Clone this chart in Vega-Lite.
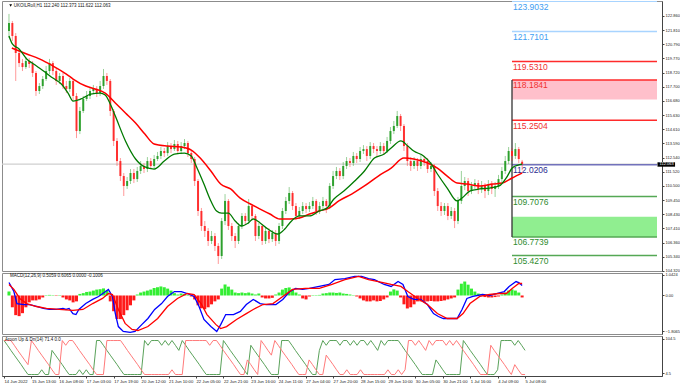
{
"$schema": "https://vega.github.io/schema/vega-lite/v6.json",
"padding": 0,
"background": "white",
"spacing": 2,
"bounds": "flush",
"config": {"view": {"stroke": "#8c8c8c", "strokeWidth": 1}, "axis": {"labelFont": "Liberation Sans", "labelFontSize": 4, "labelColor": "#222222", "domainColor": "#444444", "tickColor": "#444444", "tickSize": 2, "labelPadding": 1, "grid": false, "labelOverlap": false, "title": null}, "text": {"font": "Liberation Sans"}},
"datasets": {
"candles": [
{"i":0,"o":121.74,"h":122.98,"l":121.23,"c":122.32},{"i":2,"o":122.32,"h":122.47,"l":121.01,"c":121.38},{"i":4,"o":121.38,"h":121.59,"l":118.11,"c":120.14},{"i":6,"o":120.14,"h":120.43,"l":119.12,"c":119.41},{"i":8,"o":119.41,"h":119.71,"l":118.83,"c":119.12},{"i":10,"o":119.12,"h":119.85,"l":118.98,"c":119.56},{"i":12,"o":119.56,"h":119.78,"l":119.05,"c":119.34},{"i":14,"o":119.34,"h":119.56,"l":118.40,"c":118.69},{"i":16,"o":118.69,"h":118.83,"l":117.02,"c":117.38},{"i":18,"o":117.38,"h":117.96,"l":117.16,"c":117.74},{"i":20,"o":117.74,"h":118.47,"l":117.53,"c":118.25},{"i":22,"o":118.25,"h":119.20,"l":118.11,"c":118.83},{"i":24,"o":118.83,"h":119.71,"l":118.61,"c":119.41},{"i":26,"o":119.41,"h":119.56,"l":118.54,"c":118.83},{"i":28,"o":118.83,"h":119.05,"l":117.82,"c":118.11},{"i":30,"o":118.11,"h":118.69,"l":117.89,"c":118.47},{"i":32,"o":118.47,"h":118.69,"l":117.53,"c":117.74},{"i":34,"o":117.74,"h":118.11,"l":117.23,"c":117.53},{"i":36,"o":117.53,"h":118.32,"l":117.31,"c":118.11},{"i":38,"o":118.11,"h":118.25,"l":116.65,"c":117.02},{"i":40,"o":117.02,"h":117.23,"l":113.96,"c":114.47},{"i":42,"o":114.47,"h":116.22,"l":114.25,"c":115.93},{"i":44,"o":115.93,"h":117.02,"l":115.78,"c":116.80},{"i":46,"o":116.80,"h":117.38,"l":116.65,"c":117.02},{"i":48,"o":117.02,"h":117.67,"l":116.80,"c":117.38},{"i":50,"o":117.38,"h":117.82,"l":117.16,"c":117.53},{"i":52,"o":117.53,"h":117.74,"l":116.94,"c":117.23},{"i":54,"o":117.23,"h":118.11,"l":117.02,"c":117.74},{"i":56,"o":117.74,"h":118.98,"l":117.53,"c":118.47},{"i":58,"o":118.47,"h":118.69,"l":117.82,"c":118.11},{"i":60,"o":118.11,"h":118.25,"l":115.56,"c":115.93},{"i":62,"o":115.93,"h":116.07,"l":113.38,"c":113.75},{"i":64,"o":113.75,"h":113.96,"l":111.93,"c":112.29},{"i":66,"o":112.29,"h":112.51,"l":110.84,"c":111.20},{"i":68,"o":111.20,"h":111.42,"l":109.75,"c":110.48},{"i":70,"o":110.48,"h":111.13,"l":110.26,"c":110.84},{"i":72,"o":110.84,"h":111.71,"l":110.62,"c":111.42},{"i":74,"o":111.42,"h":111.71,"l":110.69,"c":110.98},{"i":76,"o":110.98,"h":111.86,"l":110.77,"c":111.57},{"i":78,"o":111.57,"h":112.29,"l":111.35,"c":111.93},{"i":80,"o":111.93,"h":112.15,"l":111.42,"c":111.71},{"i":82,"o":111.71,"h":112.58,"l":111.49,"c":112.29},{"i":84,"o":112.29,"h":112.51,"l":111.71,"c":111.93},{"i":86,"o":111.93,"h":112.73,"l":111.71,"c":112.44},{"i":88,"o":112.44,"h":112.95,"l":112.29,"c":112.66},{"i":90,"o":112.66,"h":113.31,"l":112.44,"c":113.02},{"i":92,"o":113.02,"h":113.24,"l":112.58,"c":112.87},{"i":94,"o":112.87,"h":113.67,"l":112.66,"c":113.38},{"i":96,"o":113.38,"h":113.60,"l":112.87,"c":113.16},{"i":98,"o":113.16,"h":113.82,"l":113.02,"c":113.53},{"i":100,"o":113.53,"h":113.75,"l":112.80,"c":113.02},{"i":102,"o":113.02,"h":113.67,"l":112.80,"c":113.38},{"i":104,"o":113.38,"h":113.89,"l":113.16,"c":113.60},{"i":106,"o":113.60,"h":113.75,"l":112.58,"c":112.87},{"i":108,"o":112.87,"h":113.09,"l":112.15,"c":112.44},{"i":110,"o":112.44,"h":112.58,"l":110.48,"c":110.84},{"i":112,"o":110.84,"h":110.98,"l":108.30,"c":108.66},{"i":114,"o":108.66,"h":108.88,"l":107.21,"c":107.57},{"i":116,"o":107.57,"h":107.93,"l":106.77,"c":107.21},{"i":118,"o":107.21,"h":107.42,"l":106.12,"c":106.48},{"i":120,"o":106.48,"h":107.21,"l":106.26,"c":106.84},{"i":122,"o":106.84,"h":107.06,"l":105.75,"c":106.12},{"i":124,"o":106.12,"h":106.33,"l":104.81,"c":105.39},{"i":126,"o":105.39,"h":108.15,"l":105.17,"c":107.93},{"i":128,"o":107.93,"h":109.89,"l":107.64,"c":109.39},{"i":130,"o":109.39,"h":109.53,"l":107.28,"c":107.57},{"i":132,"o":107.57,"h":107.79,"l":106.48,"c":106.84},{"i":134,"o":106.84,"h":107.06,"l":105.97,"c":106.48},{"i":136,"o":106.48,"h":107.79,"l":106.26,"c":107.57},{"i":138,"o":107.57,"h":108.51,"l":107.35,"c":108.30},{"i":140,"o":108.30,"h":108.51,"l":107.64,"c":107.93},{"i":142,"o":107.93,"h":109.53,"l":107.71,"c":109.02},{"i":144,"o":109.02,"h":109.17,"l":108.00,"c":108.30},{"i":146,"o":108.30,"h":108.44,"l":106.48,"c":106.84},{"i":148,"o":106.84,"h":107.79,"l":106.62,"c":107.57},{"i":150,"o":107.57,"h":107.71,"l":106.19,"c":106.48},{"i":152,"o":106.48,"h":107.50,"l":106.26,"c":107.21},{"i":154,"o":107.21,"h":107.42,"l":106.33,"c":106.62},{"i":156,"o":106.62,"h":107.28,"l":106.41,"c":107.06},{"i":158,"o":107.06,"h":107.28,"l":106.12,"c":106.48},{"i":160,"o":106.48,"h":107.79,"l":106.26,"c":107.57},{"i":162,"o":107.57,"h":108.88,"l":107.35,"c":108.66},{"i":164,"o":108.66,"h":109.68,"l":108.44,"c":109.39},{"i":166,"o":109.39,"h":110.40,"l":109.17,"c":109.97},{"i":168,"o":109.97,"h":110.11,"l":108.73,"c":109.02},{"i":170,"o":109.02,"h":109.24,"l":108.00,"c":108.30},{"i":172,"o":108.30,"h":108.95,"l":108.08,"c":108.66},{"i":174,"o":108.66,"h":109.31,"l":108.44,"c":109.02},{"i":176,"o":109.02,"h":109.24,"l":108.51,"c":108.80},{"i":178,"o":108.80,"h":109.31,"l":108.59,"c":109.02},{"i":180,"o":109.02,"h":109.68,"l":108.80,"c":109.39},{"i":182,"o":109.39,"h":109.53,"l":108.37,"c":108.66},{"i":184,"o":108.66,"h":109.31,"l":108.44,"c":109.02},{"i":186,"o":109.02,"h":109.68,"l":108.80,"c":109.39},{"i":188,"o":109.39,"h":109.53,"l":108.51,"c":109.02},{"i":190,"o":109.02,"h":110.69,"l":108.80,"c":110.48},{"i":192,"o":110.48,"h":111.57,"l":110.26,"c":111.20},{"i":194,"o":111.20,"h":111.86,"l":110.98,"c":111.57},{"i":196,"o":111.57,"h":111.78,"l":110.91,"c":111.20},{"i":198,"o":111.20,"h":112.22,"l":110.98,"c":111.93},{"i":200,"o":111.93,"h":112.58,"l":111.71,"c":112.29},{"i":202,"o":112.29,"h":112.51,"l":111.86,"c":112.15},{"i":204,"o":112.15,"h":112.95,"l":111.93,"c":112.66},{"i":206,"o":112.66,"h":112.87,"l":112.15,"c":112.44},{"i":208,"o":112.44,"h":113.31,"l":112.22,"c":113.02},{"i":210,"o":113.02,"h":113.45,"l":112.80,"c":113.16},{"i":212,"o":113.16,"h":113.38,"l":112.29,"c":112.66},{"i":214,"o":112.66,"h":113.67,"l":112.44,"c":113.38},{"i":216,"o":113.38,"h":113.60,"l":112.87,"c":113.16},{"i":218,"o":113.16,"h":113.38,"l":112.58,"c":113.02},{"i":220,"o":113.02,"h":113.67,"l":112.80,"c":113.38},{"i":222,"o":113.38,"h":113.60,"l":112.73,"c":113.02},{"i":224,"o":113.02,"h":114.04,"l":112.87,"c":113.75},{"i":226,"o":113.75,"h":114.76,"l":113.53,"c":114.47},{"i":228,"o":114.47,"h":115.20,"l":114.25,"c":114.84},{"i":230,"o":114.84,"h":115.93,"l":114.69,"c":115.56},{"i":232,"o":115.56,"h":115.71,"l":114.47,"c":114.84},{"i":234,"o":114.84,"h":114.98,"l":113.02,"c":113.38},{"i":236,"o":113.38,"h":113.60,"l":111.93,"c":112.29},{"i":238,"o":112.29,"h":112.58,"l":111.57,"c":111.93},{"i":240,"o":111.93,"h":112.58,"l":111.71,"c":112.29},{"i":242,"o":112.29,"h":112.51,"l":111.57,"c":111.93},{"i":244,"o":111.93,"h":112.73,"l":111.71,"c":112.44},{"i":246,"o":112.44,"h":112.66,"l":111.93,"c":112.29},{"i":248,"o":112.29,"h":112.51,"l":111.42,"c":111.71},{"i":250,"o":111.71,"h":112.22,"l":111.49,"c":111.93},{"i":252,"o":111.93,"h":112.07,"l":109.75,"c":110.11},{"i":254,"o":110.11,"h":110.33,"l":108.66,"c":109.02},{"i":256,"o":109.02,"h":109.31,"l":108.30,"c":108.66},{"i":258,"o":108.66,"h":109.24,"l":108.37,"c":109.02},{"i":260,"o":109.02,"h":109.24,"l":108.00,"c":108.30},{"i":262,"o":108.30,"h":108.95,"l":108.08,"c":108.66},{"i":264,"o":108.66,"h":108.88,"l":107.42,"c":107.93},{"i":266,"o":107.93,"h":109.68,"l":107.71,"c":109.39},{"i":268,"o":109.39,"h":111.57,"l":109.17,"c":110.48},{"i":270,"o":110.48,"h":111.13,"l":110.18,"c":110.84},{"i":272,"o":110.84,"h":111.06,"l":109.75,"c":110.11},{"i":274,"o":110.11,"h":110.77,"l":109.89,"c":110.48},{"i":276,"o":110.48,"h":110.98,"l":110.26,"c":110.69},{"i":278,"o":110.69,"h":110.91,"l":109.89,"c":110.26},{"i":280,"o":110.26,"h":110.84,"l":109.97,"c":110.48},{"i":282,"o":110.48,"h":110.69,"l":109.60,"c":110.11},{"i":284,"o":110.11,"h":110.91,"l":109.82,"c":110.62},{"i":286,"o":110.62,"h":110.84,"l":109.89,"c":110.26},{"i":288,"o":110.26,"h":110.77,"l":109.68,"c":110.48},{"i":290,"o":110.48,"h":111.28,"l":110.26,"c":110.98},{"i":292,"o":110.98,"h":111.86,"l":110.77,"c":111.57},{"i":294,"o":111.57,"h":112.66,"l":111.35,"c":112.29},{"i":296,"o":112.29,"h":113.31,"l":112.07,"c":113.02},{"i":298,"o":113.02,"h":113.24,"l":112.29,"c":112.66},{"i":300,"o":112.66,"h":113.60,"l":112.44,"c":113.16},{"i":302,"o":113.16,"h":113.31,"l":112.15,"c":112.44},{"i":304,"o":112.24,"h":112.37,"l":111.62,"c":112.06}
],
"maFast": [
{"i":0,"v":121.38},{"i":2,"v":120.80},{"i":6,"v":120.43},{"i":10.5,"v":119.71},{"i":14.6,"v":119.34},{"i":18,"v":119.05},{"i":22,"v":118.69},{"i":26,"v":118.32},{"i":31,"v":117.89},{"i":35,"v":117.23},{"i":38,"v":116.65},{"i":42.6,"v":116.80},{"i":48.4,"v":117.16},{"i":54,"v":117.23},{"i":57,"v":117.09},{"i":60,"v":116.43},{"i":63,"v":115.56},{"i":69,"v":113.75},{"i":75,"v":112.44},{"i":80.5,"v":111.86},{"i":86,"v":111.71},{"i":92,"v":112.29},{"i":98,"v":112.80},{"i":104,"v":112.87},{"i":108,"v":112.66},{"i":111.4,"v":111.78},{"i":115.5,"v":110.62},{"i":119.6,"v":109.39},{"i":123,"v":108.66},{"i":126,"v":108.51},{"i":130,"v":108.51},{"i":134,"v":107.93},{"i":137.7,"v":107.57},{"i":141.8,"v":107.79},{"i":144.7,"v":108.08},{"i":148.8,"v":107.79},{"i":153.4,"v":107.35},{"i":159.3,"v":106.99},{"i":163.4,"v":107.35},{"i":166.3,"v":107.79},{"i":172,"v":108.30},{"i":178,"v":108.30},{"i":183.8,"v":108.66},{"i":188.4,"v":108.88},{"i":192.5,"v":109.53},{"i":198.4,"v":110.11},{"i":204.8,"v":110.84},{"i":210.6,"v":111.57},{"i":216.5,"v":112.51},{"i":222.3,"v":112.80},{"i":226.4,"v":113.24},{"i":232.2,"v":113.75},{"i":236.3,"v":113.38},{"i":239.8,"v":113.02},{"i":245.6,"v":112.66},{"i":249.7,"v":112.15},{"i":253.8,"v":111.35},{"i":259.6,"v":110.33},{"i":265.5,"v":109.39},{"i":268.4,"v":109.60},{"i":273,"v":110.11},{"i":278.9,"v":110.26},{"i":284.7,"v":110.33},{"i":290.5,"v":110.48},{"i":294.6,"v":111.06},{"i":298.1,"v":111.78},{"i":301.6,"v":112.00},{"i":304,"v":112.07}
],
"maSlow": [
{"i":1.7,"v":120.50},{"i":10.5,"v":120.07},{"i":18,"v":119.71},{"i":26,"v":119.20},{"i":34,"v":118.61},{"i":38,"v":118.25},{"i":45.5,"v":117.74},{"i":51,"v":117.53},{"i":57,"v":117.23},{"i":63,"v":116.51},{"i":69,"v":115.78},{"i":75,"v":115.05},{"i":80.5,"v":114.25},{"i":86,"v":113.53},{"i":94,"v":113.38},{"i":102,"v":113.31},{"i":108,"v":113.09},{"i":113.8,"v":112.44},{"i":119.6,"v":111.57},{"i":125.4,"v":110.62},{"i":131.3,"v":110.26},{"i":137,"v":109.60},{"i":143,"v":109.17},{"i":148.8,"v":108.80},{"i":154.6,"v":108.44},{"i":160.4,"v":108.08},{"i":166.3,"v":108.08},{"i":172,"v":108.15},{"i":178,"v":108.44},{"i":183.8,"v":108.66},{"i":189.6,"v":108.88},{"i":195.4,"v":109.39},{"i":203,"v":109.89},{"i":210.6,"v":110.48},{"i":218.8,"v":111.20},{"i":226.4,"v":111.78},{"i":234,"v":112.51},{"i":239.8,"v":112.44},{"i":248,"v":112.15},{"i":253.8,"v":111.78},{"i":259.6,"v":111.20},{"i":265.5,"v":110.69},{"i":271.3,"v":110.62},{"i":278.9,"v":110.48},{"i":286.5,"v":110.62},{"i":292.3,"v":110.69},{"i":298.1,"v":111.06},{"i":304,"v":111.42}
],
"fib": [
{"p":123.9032,"g":"ext"},{"p":121.7101,"g":"ext"},{"p":119.5310,"g":"res"},{"p":118.1841,"g":"res"},{"p":115.2504,"g":"res"},{"p":112.0206,"g":"piv"},{"p":109.7076,"g":"sup"},{"p":106.7739,"g":"sup"},{"p":105.4270,"g":"sup"}
],
"zones": [{"top":118.1841,"bot":116.76,"g":"res"},{"top":108.24,"bot":106.7739,"g":"sup"}],
"macdMain": [
{"i":0,"v":0.66},{"i":2.9,"v":0.20},{"i":4.7,"v":-0.41},{"i":8.8,"v":-0.46},{"i":12.3,"v":-0.46},{"i":16.3,"v":-0.56},{"i":20.4,"v":-0.66},{"i":23.9,"v":-0.71},{"i":28,"v":-0.71},{"i":32,"v":-0.66},{"i":33.8,"v":-0.71},{"i":35.6,"v":-0.66},{"i":37.9,"v":-0.92},{"i":39.7,"v":-0.97},{"i":41.4,"v":-0.71},{"i":45.5,"v":-0.41},{"i":49.6,"v":-0.20},{"i":53.1,"v":-0.05},{"i":57.2,"v":0.20},{"i":58.9,"v":0.31},{"i":61.3,"v":-0.05},{"i":63,"v":-0.92},{"i":64.8,"v":-1.58},{"i":67.7,"v":-1.83},{"i":71.8,"v":-1.88},{"i":74.7,"v":-1.83},{"i":78.8,"v":-1.47},{"i":82.3,"v":-1.17},{"i":86.3,"v":-0.71},{"i":90.4,"v":-0.41},{"i":93.9,"v":-0.05},{"i":98,"v":0.20},{"i":102.1,"v":0.20},{"i":105.6,"v":0.10},{"i":109.7,"v":-0.05},{"i":112.6,"v":-0.56},{"i":115.5,"v":-1.22},{"i":119.6,"v":-1.58},{"i":123.1,"v":-1.83},{"i":125.5,"v":-1.47},{"i":128.4,"v":-0.97},{"i":133,"v":-0.97},{"i":137.1,"v":-0.81},{"i":140.6,"v":-0.46},{"i":144.7,"v":-0.20},{"i":148.8,"v":-0.41},{"i":152.3,"v":-0.46},{"i":158.1,"v":-0.46},{"i":162.2,"v":-0.20},{"i":166.3,"v":0.20},{"i":169.8,"v":0.36},{"i":173.9,"v":0.31},{"i":177.9,"v":0.36},{"i":183.8,"v":0.46},{"i":189.6,"v":0.56},{"i":193.1,"v":0.81},{"i":199,"v":0.86},{"i":204.8,"v":0.97},{"i":208.9,"v":0.97},{"i":213,"v":0.86},{"i":216.5,"v":0.81},{"i":222.3,"v":0.56},{"i":226.4,"v":0.46},{"i":230.5,"v":0.71},{"i":233.4,"v":0.56},{"i":236.3,"v":-0.05},{"i":239.8,"v":-0.20},{"i":243.9,"v":-0.20},{"i":247.9,"v":-0.46},{"i":251.5,"v":-0.92},{"i":254.4,"v":-1.07},{"i":257.3,"v":-1.17},{"i":261.4,"v":-1.17},{"i":265.5,"v":-1.17},{"i":268.4,"v":-0.71},{"i":271.3,"v":-0.15},{"i":274.8,"v":-0.05},{"i":280.6,"v":0.05},{"i":284.7,"v":0.00},{"i":288.8,"v":0.10},{"i":293.4,"v":0.20},{"i":296.3,"v":0.46},{"i":300.4,"v":0.71},{"i":302,"v":0.66},{"i":304,"v":0.51}
],
"macdSignal": [
{"i":0,"v":0.56},{"i":2.9,"v":0.31},{"i":6.4,"v":-0.15},{"i":10.5,"v":-0.41},{"i":16.3,"v":-0.56},{"i":22.2,"v":-0.66},{"i":29.8,"v":-0.71},{"i":37.9,"v":-0.76},{"i":43.8,"v":-0.71},{"i":49.6,"v":-0.41},{"i":55.4,"v":-0.15},{"i":58.9,"v":0.10},{"i":61.3,"v":0.05},{"i":64.8,"v":-0.71},{"i":68.8,"v":-1.42},{"i":72.9,"v":-1.73},{"i":76.4,"v":-1.78},{"i":82.3,"v":-1.58},{"i":88.1,"v":-1.17},{"i":93.9,"v":-0.56},{"i":99.8,"v":-0.15},{"i":105.6,"v":0.10},{"i":109.7,"v":0.05},{"i":113.8,"v":-0.41},{"i":117.3,"v":-0.97},{"i":122.5,"v":-1.47},{"i":125.4,"v":-1.68},{"i":128.9,"v":-1.58},{"i":134.8,"v":-1.22},{"i":140.6,"v":-0.92},{"i":144.7,"v":-0.71},{"i":150.5,"v":-0.46},{"i":156.4,"v":-0.41},{"i":162.2,"v":-0.05},{"i":168,"v":0.31},{"i":175.6,"v":0.36},{"i":183.8,"v":0.36},{"i":191.4,"v":0.56},{"i":199,"v":0.81},{"i":207.1,"v":0.97},{"i":213,"v":0.81},{"i":218.8,"v":0.71},{"i":226.4,"v":0.56},{"i":232.2,"v":0.46},{"i":236.3,"v":0.20},{"i":242.1,"v":-0.15},{"i":247.9,"v":-0.46},{"i":253.8,"v":-0.92},{"i":259.6,"v":-1.17},{"i":265.5,"v":-1.17},{"i":269,"v":-0.92},{"i":273.1,"v":-0.41},{"i":278.9,"v":-0.05},{"i":284.7,"v":0.05},{"i":290.5,"v":0.10},{"i":294.6,"v":0.10},{"i":298.1,"v":0.36},{"i":302,"v":0.61},{"i":304,"v":0.61}
],
"hist": [
{"i":0,"v":0.2},{"i":2,"v":-0.6},{"i":4,"v":-1.0},{"i":6,"v":-1.05},{"i":8,"v":-0.9},{"i":10,"v":-0.6},{"i":12,"v":-0.35},{"i":14,"v":-0.25},{"i":16,"v":-0.25},{"i":18,"v":-0.2},{"i":20,"v":-0.1},{"i":22,"v":0.02},{"i":24,"v":0.03},{"i":26,"v":0.02},{"i":28,"v":-0.02},{"i":30,"v":0.02},{"i":32,"v":-0.1},{"i":34,"v":-0.2},{"i":36,"v":-0.25},{"i":38,"v":-0.35},{"i":40,"v":-0.3},{"i":42,"v":0.08},{"i":44,"v":0.12},{"i":46,"v":0.18},{"i":48,"v":0.2},{"i":50,"v":0.25},{"i":52,"v":0.3},{"i":54,"v":0.32},{"i":56,"v":0.36},{"i":58,"v":0.25},{"i":60,"v":-0.3},{"i":62,"v":-0.8},{"i":64,"v":-1.2},{"i":66,"v":-1.2},{"i":68,"v":-1.0},{"i":70,"v":-0.75},{"i":72,"v":-0.5},{"i":74,"v":-0.25},{"i":76,"v":0.05},{"i":78,"v":0.15},{"i":80,"v":0.2},{"i":82,"v":0.25},{"i":84,"v":0.3},{"i":86,"v":0.38},{"i":88,"v":0.42},{"i":90,"v":0.46},{"i":92,"v":0.42},{"i":94,"v":0.35},{"i":96,"v":0.25},{"i":98,"v":0.12},{"i":100,"v":0.05},{"i":102,"v":0.1},{"i":104,"v":0.08},{"i":106,"v":0.03},{"i":108,"v":-0.05},{"i":110,"v":-0.2},{"i":112,"v":-0.5},{"i":114,"v":-0.65},{"i":116,"v":-0.7},{"i":118,"v":-0.6},{"i":120,"v":-0.45},{"i":122,"v":-0.3},{"i":124,"v":-0.2},{"i":126,"v":0.35},{"i":128,"v":0.56},{"i":130,"v":0.45},{"i":132,"v":0.3},{"i":134,"v":0.15},{"i":136,"v":0.12},{"i":138,"v":0.15},{"i":140,"v":0.12},{"i":142,"v":0.15},{"i":144,"v":0.1},{"i":146,"v":0.05},{"i":148,"v":0.1},{"i":150,"v":-0.1},{"i":152,"v":-0.15},{"i":154,"v":-0.15},{"i":156,"v":-0.12},{"i":158,"v":0.05},{"i":160,"v":0.15},{"i":162,"v":0.3},{"i":164,"v":0.38},{"i":166,"v":0.41},{"i":168,"v":0.3},{"i":170,"v":0.15},{"i":172,"v":0.05},{"i":174,"v":-0.15},{"i":176,"v":-0.2},{"i":178,"v":-0.05},{"i":180,"v":0.02},{"i":182,"v":0.02},{"i":184,"v":0.03},{"i":186,"v":0.1},{"i":188,"v":0.12},{"i":190,"v":0.15},{"i":192,"v":0.15},{"i":194,"v":0.13},{"i":196,"v":0.15},{"i":198,"v":0.1},{"i":200,"v":0.08},{"i":202,"v":0.05},{"i":204,"v":0.02},{"i":206,"v":-0.05},{"i":208,"v":-0.15},{"i":210,"v":-0.25},{"i":212,"v":-0.3},{"i":214,"v":-0.3},{"i":216,"v":-0.25},{"i":218,"v":-0.3},{"i":220,"v":-0.28},{"i":222,"v":-0.2},{"i":224,"v":-0.1},{"i":226,"v":0.2},{"i":228,"v":0.31},{"i":230,"v":0.25},{"i":232,"v":-0.1},{"i":234,"v":-0.45},{"i":236,"v":-0.66},{"i":238,"v":-0.6},{"i":240,"v":-0.45},{"i":242,"v":-0.3},{"i":244,"v":-0.3},{"i":246,"v":-0.32},{"i":248,"v":-0.3},{"i":250,"v":-0.28},{"i":252,"v":-0.3},{"i":254,"v":-0.3},{"i":256,"v":-0.28},{"i":258,"v":-0.25},{"i":260,"v":-0.2},{"i":262,"v":-0.15},{"i":264,"v":-0.1},{"i":266,"v":0.3},{"i":268,"v":0.6},{"i":270,"v":0.71},{"i":272,"v":0.55},{"i":274,"v":0.35},{"i":276,"v":0.2},{"i":278,"v":0.1},{"i":280,"v":0.08},{"i":282,"v":-0.08},{"i":284,"v":-0.1},{"i":286,"v":-0.1},{"i":288,"v":-0.08},{"i":290,"v":-0.05},{"i":292,"v":0.05},{"i":294,"v":0.15},{"i":296,"v":0.25},{"i":298,"v":0.31},{"i":300,"v":0.25},{"i":302,"v":0.15},{"i":304,"v":-0.1}
],
"aroonUp": [
{"i":0,"v":100},{"i":2,"v":86},{"i":4,"v":71},{"i":6,"v":57},{"i":8,"v":43},{"i":10,"v":29},{"i":12,"v":14},{"i":14,"v":0},{"i":16,"v":0},{"i":18,"v":0},{"i":20,"v":0},{"i":22,"v":14},{"i":24,"v":0},{"i":26,"v":0},{"i":28,"v":71},{"i":30,"v":57},{"i":32,"v":43},{"i":34,"v":29},{"i":36,"v":14},{"i":38,"v":0},{"i":40,"v":0},{"i":42,"v":0},{"i":44,"v":14},{"i":46,"v":0},{"i":48,"v":14},{"i":50,"v":0},{"i":52,"v":0},{"i":54,"v":100},{"i":56,"v":100},{"i":58,"v":86},{"i":60,"v":71},{"i":62,"v":57},{"i":64,"v":43},{"i":66,"v":29},{"i":68,"v":14},{"i":70,"v":0},{"i":72,"v":0},{"i":74,"v":0},{"i":76,"v":0},{"i":78,"v":0},{"i":80,"v":0},{"i":82,"v":100},{"i":84,"v":86},{"i":86,"v":100},{"i":88,"v":100},{"i":90,"v":100},{"i":92,"v":86},{"i":94,"v":100},{"i":96,"v":86},{"i":98,"v":100},{"i":100,"v":86},{"i":102,"v":71},{"i":104,"v":100},{"i":106,"v":86},{"i":108,"v":71},{"i":110,"v":57},{"i":112,"v":43},{"i":114,"v":29},{"i":116,"v":14},{"i":118,"v":0},{"i":120,"v":0},{"i":122,"v":0},{"i":124,"v":0},{"i":126,"v":0},{"i":128,"v":100},{"i":130,"v":86},{"i":132,"v":71},{"i":134,"v":57},{"i":136,"v":43},{"i":138,"v":29},{"i":140,"v":14},{"i":142,"v":0},{"i":144,"v":86},{"i":146,"v":71},{"i":148,"v":57},{"i":150,"v":43},{"i":152,"v":29},{"i":154,"v":14},{"i":156,"v":0},{"i":158,"v":0},{"i":160,"v":0},{"i":162,"v":100},{"i":164,"v":100},{"i":166,"v":100},{"i":168,"v":86},{"i":170,"v":71},{"i":172,"v":57},{"i":174,"v":43},{"i":176,"v":29},{"i":178,"v":14},{"i":180,"v":0},{"i":182,"v":0},{"i":184,"v":71},{"i":186,"v":100},{"i":188,"v":86},{"i":190,"v":100},{"i":192,"v":100},{"i":194,"v":100},{"i":196,"v":86},{"i":198,"v":100},{"i":200,"v":100},{"i":202,"v":86},{"i":204,"v":100},{"i":206,"v":86},{"i":208,"v":100},{"i":210,"v":100},{"i":212,"v":86},{"i":214,"v":100},{"i":216,"v":86},{"i":218,"v":71},{"i":220,"v":100},{"i":222,"v":86},{"i":224,"v":100},{"i":226,"v":100},{"i":228,"v":100},{"i":230,"v":100},{"i":232,"v":86},{"i":234,"v":71},{"i":236,"v":57},{"i":238,"v":43},{"i":240,"v":29},{"i":242,"v":14},{"i":244,"v":0},{"i":246,"v":0},{"i":248,"v":0},{"i":250,"v":0},{"i":252,"v":43},{"i":254,"v":29},{"i":256,"v":14},{"i":258,"v":0},{"i":260,"v":0},{"i":262,"v":0},{"i":264,"v":0},{"i":266,"v":0},{"i":268,"v":100},{"i":270,"v":86},{"i":272,"v":71},{"i":274,"v":57},{"i":276,"v":43},{"i":278,"v":29},{"i":280,"v":14},{"i":282,"v":0},{"i":284,"v":0},{"i":286,"v":0},{"i":288,"v":14},{"i":290,"v":100},{"i":292,"v":100},{"i":294,"v":100},{"i":296,"v":100},{"i":298,"v":86},{"i":300,"v":100},{"i":302,"v":86},{"i":304,"v":71}
],
"aroonDn": [
{"i":0,"v":100},{"i":2,"v":100},{"i":4,"v":100},{"i":6,"v":86},{"i":8,"v":71},{"i":10,"v":57},{"i":12,"v":43},{"i":14,"v":29},{"i":16,"v":100},{"i":18,"v":86},{"i":20,"v":71},{"i":22,"v":57},{"i":24,"v":43},{"i":26,"v":29},{"i":28,"v":14},{"i":30,"v":0},{"i":32,"v":0},{"i":34,"v":100},{"i":36,"v":86},{"i":38,"v":100},{"i":40,"v":100},{"i":42,"v":86},{"i":44,"v":71},{"i":46,"v":57},{"i":48,"v":43},{"i":50,"v":29},{"i":52,"v":14},{"i":54,"v":0},{"i":56,"v":0},{"i":58,"v":0},{"i":60,"v":100},{"i":62,"v":100},{"i":64,"v":100},{"i":66,"v":100},{"i":68,"v":100},{"i":70,"v":86},{"i":72,"v":71},{"i":74,"v":57},{"i":76,"v":43},{"i":78,"v":29},{"i":80,"v":14},{"i":82,"v":0},{"i":84,"v":0},{"i":86,"v":0},{"i":88,"v":0},{"i":90,"v":0},{"i":92,"v":0},{"i":94,"v":0},{"i":96,"v":0},{"i":98,"v":14},{"i":100,"v":0},{"i":102,"v":0},{"i":104,"v":0},{"i":106,"v":100},{"i":108,"v":100},{"i":110,"v":100},{"i":112,"v":100},{"i":114,"v":100},{"i":116,"v":100},{"i":118,"v":100},{"i":120,"v":86},{"i":122,"v":100},{"i":124,"v":100},{"i":126,"v":86},{"i":128,"v":71},{"i":130,"v":57},{"i":132,"v":43},{"i":134,"v":29},{"i":136,"v":14},{"i":138,"v":0},{"i":140,"v":0},{"i":142,"v":43},{"i":144,"v":29},{"i":146,"v":14},{"i":148,"v":0},{"i":150,"v":100},{"i":152,"v":86},{"i":154,"v":71},{"i":156,"v":57},{"i":158,"v":100},{"i":160,"v":86},{"i":162,"v":71},{"i":164,"v":57},{"i":166,"v":43},{"i":168,"v":29},{"i":170,"v":14},{"i":172,"v":0},{"i":174,"v":0},{"i":176,"v":0},{"i":178,"v":43},{"i":180,"v":29},{"i":182,"v":14},{"i":184,"v":0},{"i":186,"v":0},{"i":188,"v":57},{"i":190,"v":43},{"i":192,"v":29},{"i":194,"v":14},{"i":196,"v":0},{"i":198,"v":0},{"i":200,"v":14},{"i":202,"v":0},{"i":204,"v":0},{"i":206,"v":0},{"i":208,"v":14},{"i":210,"v":0},{"i":212,"v":0},{"i":214,"v":0},{"i":216,"v":0},{"i":218,"v":0},{"i":220,"v":0},{"i":222,"v":0},{"i":224,"v":14},{"i":226,"v":0},{"i":228,"v":0},{"i":230,"v":14},{"i":232,"v":0},{"i":234,"v":14},{"i":236,"v":100},{"i":238,"v":100},{"i":240,"v":86},{"i":242,"v":100},{"i":244,"v":86},{"i":246,"v":71},{"i":248,"v":100},{"i":250,"v":86},{"i":252,"v":100},{"i":254,"v":100},{"i":256,"v":100},{"i":258,"v":86},{"i":260,"v":100},{"i":262,"v":86},{"i":264,"v":100},{"i":266,"v":86},{"i":268,"v":71},{"i":270,"v":57},{"i":272,"v":43},{"i":274,"v":29},{"i":276,"v":14},{"i":278,"v":0},{"i":280,"v":0},{"i":282,"v":0},{"i":284,"v":86},{"i":286,"v":71},{"i":288,"v":57},{"i":290,"v":43},{"i":292,"v":29},{"i":294,"v":14},{"i":296,"v":0},{"i":298,"v":29},{"i":300,"v":14},{"i":302,"v":0},{"i":304,"v":0}
]
},
"vconcat": [
{
"width": 660, "height": 270,
"resolve": {"axis": {"x": "independent", "y": "independent"}},
"layer": [
{"data": {"values": [{"p": 112.063}]}, "mark": {"type": "rule", "stroke": "#cfcfcf", "strokeWidth": 1.2},
 "encoding": {"y": {"field": "p", "type": "quantitative", "scale": {"domain": [104.30, 123.92], "nice": false, "zero": false},
  "axis": {"orient": "right", "title": null, "labelOverlap": false, "labelFontSize": 4, "labelPadding": 1, "values": [122.86,121.81,120.79,119.77,118.72,117.70,116.68,115.63,114.61,113.59,112.54,111.52,110.50,109.45,108.43,107.41,106.36,105.34,104.32], "labelExpr": "format(datum.value, '.3f')"}}}},
{"data": {"name": "zones"}, "mark": {"type": "rect", "clip": true},
 "encoding": {"x": {"datum": 298, "type": "quantitative", "scale": {"domain": [-1.17, 383.9], "nice": false, "zero": false}, "axis": null},
  "x2": {"datum": 383.9}, "y": {"field": "top", "type": "quantitative", "scale": {"domain": [104.30, 123.92], "nice": false, "zero": false}, "axis": null}, "y2": {"field": "bot"},
  "color": {"field": "g", "type": "nominal", "scale": {"domain": ["res", "sup"], "range": ["#ffc0cb", "#90ee90"]}, "legend": null}}},
{"data": {"name": "fib"}, "mark": {"type": "rule", "strokeWidth": 1.5, "clip": true},
 "encoding": {"x": {"datum": 298, "type": "quantitative", "scale": {"domain": [-1.17, 383.9], "nice": false, "zero": false}, "axis": null},
  "x2": {"datum": 383.9}, "y": {"field": "p", "type": "quantitative", "scale": {"domain": [104.30, 123.92], "nice": false, "zero": false}, "axis": null},
  "stroke": {"field": "g", "type": "nominal", "scale": {"domain": ["ext", "res", "piv", "sup"], "range": ["#a8d4ff", "#ff2b2b", "#7272bb", "#55a855"]}, "legend": null}}},
{"data": {"values": [{"a": 118.1841, "b": 106.7739}]}, "mark": {"type": "rule", "stroke": "#333333", "strokeWidth": 1.3},
 "encoding": {"x": {"datum": 298, "type": "quantitative", "scale": {"domain": [-1.17, 383.9], "nice": false, "zero": false}, "axis": null},
  "y": {"field": "a", "type": "quantitative", "scale": {"domain": [104.30, 123.92], "nice": false, "zero": false}, "axis": null}, "y2": {"field": "b"}}},
{"data": {"name": "fib"}, "mark": {"type": "text", "align": "left", "baseline": "top", "dy": 1.5, "dx": 1, "fontSize": 8.5},
 "encoding": {"x": {"datum": 298, "type": "quantitative", "scale": {"domain": [-1.17, 383.9], "nice": false, "zero": false}, "axis": null},
  "y": {"field": "p", "type": "quantitative", "scale": {"domain": [104.30, 123.92], "nice": false, "zero": false}, "axis": null},
  "text": {"field": "p", "type": "quantitative", "format": ".4f"},
  "fill": {"field": "g", "type": "nominal", "scale": {"domain": ["ext", "res", "piv", "sup"], "range": ["#3d9df2", "#f03030", "#2b2b8f", "#2e8b2e"]}, "legend": null}}},
{"data": {"name": "candles"}, "mark": {"type": "rule", "strokeWidth": 1, "opacity": 0.45},
 "encoding": {"x": {"field": "i", "type": "quantitative", "scale": {"domain": [-1.17, 383.9], "nice": false, "zero": false}, "axis": null},
  "y": {"field": "l", "type": "quantitative", "scale": {"domain": [104.30, 123.92], "nice": false, "zero": false}, "axis": null}, "y2": {"field": "h"},
  "color": {"condition": {"test": "datum.c >= datum.o", "value": "#1f9a1f"}, "value": "#ff2020"}}},
{"data": {"name": "candles"}, "mark": {"type": "bar", "width": 2, "opacity": 0.9},
 "encoding": {"x": {"field": "i", "type": "quantitative", "scale": {"domain": [-1.17, 383.9], "nice": false, "zero": false}, "axis": null},
  "y": {"field": "o", "type": "quantitative", "scale": {"domain": [104.30, 123.92], "nice": false, "zero": false}, "axis": null}, "y2": {"field": "c"},
  "color": {"condition": {"test": "datum.c >= datum.o", "value": "#1f9a1f"}, "value": "#ff2020"}}},
{"data": {"name": "maSlow"}, "mark": {"type": "line", "stroke": "#ff0000", "strokeWidth": 1.5, "interpolate": "monotone"},
 "encoding": {"x": {"field": "i", "type": "quantitative", "scale": {"domain": [-1.17, 383.9], "nice": false, "zero": false}, "axis": null},
  "y": {"field": "v", "type": "quantitative", "scale": {"domain": [104.30, 123.92], "nice": false, "zero": false}, "axis": null}}},
{"data": {"name": "maFast"}, "mark": {"type": "line", "stroke": "#007a00", "strokeWidth": 1.3, "interpolate": "monotone"},
 "encoding": {"x": {"field": "i", "type": "quantitative", "scale": {"domain": [-1.17, 383.9], "nice": false, "zero": false}, "axis": null},
  "y": {"field": "v", "type": "quantitative", "scale": {"domain": [104.30, 123.92], "nice": false, "zero": false}, "axis": null}}},
{"data": {"values": [{"t": "UKOILRoll,H1  112.240 112.373 111.622 112.063"}]}, "mark": {"type": "text", "align": "left", "baseline": "middle", "fontSize": 4.5, "fill": "#111111"},
 "encoding": {"x": {"datum": 2.9, "type": "quantitative", "scale": {"domain": [-1.17, 383.9], "nice": false, "zero": false}, "axis": null},
  "y": {"datum": 123.59, "type": "quantitative", "scale": {"domain": [104.30, 123.92], "nice": false, "zero": false}, "axis": null}, "text": {"field": "t"}}},
{"data": {"values": [{"a": 1}]}, "mark": {"type": "point", "shape": "triangle-down", "filled": true, "size": 8, "fill": "#000000", "opacity": 1},
 "encoding": {"x": {"datum": 1.0, "type": "quantitative", "scale": {"domain": [-1.17, 383.9], "nice": false, "zero": false}, "axis": null},
  "y": {"datum": 123.59, "type": "quantitative", "scale": {"domain": [104.30, 123.92], "nice": false, "zero": false}, "axis": null}}},
{"data": {"values": [{"a": 112.20, "b": 111.88}]}, "mark": {"type": "rect", "fill": "#000000", "clip": false},
 "encoding": {"x": {"datum": 384.2, "type": "quantitative", "scale": {"domain": [-1.17, 383.9], "nice": false, "zero": false}, "axis": null}, "x2": {"datum": 394.6},
  "y": {"field": "a", "type": "quantitative", "scale": {"domain": [104.30, 123.92], "nice": false, "zero": false}, "axis": null}, "y2": {"field": "b"}}},
{"data": {"values": [{"p": 112.063}]}, "mark": {"type": "text", "align": "left", "baseline": "middle", "fontSize": 4, "fill": "#ffffff", "clip": false},
 "encoding": {"x": {"datum": 385.4, "type": "quantitative", "scale": {"domain": [-1.17, 383.9], "nice": false, "zero": false}, "axis": null},
  "y": {"field": "p", "type": "quantitative", "scale": {"domain": [104.30, 123.92], "nice": false, "zero": false}, "axis": null},
  "text": {"field": "p", "type": "quantitative", "format": ".3f"}}}
]
},
{
"width": 660, "height": 61,
"resolve": {"axis": {"x": "independent", "y": "independent"}},
"layer": [
{"data": {"name": "hist"}, "mark": {"type": "bar", "width": 3},
 "encoding": {"x": {"field": "i", "type": "quantitative", "scale": {"domain": [-1.17, 383.9], "nice": false, "zero": false}, "axis": null},
  "y": {"field": "v", "type": "quantitative", "scale": {"domain": [-1.959, 1.144], "nice": false, "zero": false},
   "axis": {"orient": "right", "title": null, "labelOverlap": false, "labelFontSize": 4, "values": [1.0424, 0, -1.8065], "labelExpr": "datum.value == 0 ? '0.00' : format(datum.value, '.4f')"}},
  "y2": {"datum": 0},
  "color": {"condition": {"test": "datum.v >= 0", "value": "#33ee33"}, "value": "#ff1a1a"}}},
{"data": {"name": "macdMain"}, "mark": {"type": "line", "stroke": "#0000ff", "strokeWidth": 1.3},
 "encoding": {"x": {"field": "i", "type": "quantitative", "scale": {"domain": [-1.17, 383.9], "nice": false, "zero": false}, "axis": null},
  "y": {"field": "v", "type": "quantitative", "scale": {"domain": [-1.959, 1.144], "nice": false, "zero": false}, "axis": null}}},
{"data": {"name": "macdSignal"}, "mark": {"type": "line", "stroke": "#ff0000", "strokeWidth": 1.3},
 "encoding": {"x": {"field": "i", "type": "quantitative", "scale": {"domain": [-1.17, 383.9], "nice": false, "zero": false}, "axis": null},
  "y": {"field": "v", "type": "quantitative", "scale": {"domain": [-1.959, 1.144], "nice": false, "zero": false}, "axis": null}}},
{"data": {"values": [{"t": "MACD(12,26,9) 0.5059 0.6065 0.0000 -0.1006"}]}, "mark": {"type": "text", "align": "left", "baseline": "middle", "fontSize": 4.5, "fill": "#111111"},
 "encoding": {"x": {"datum": 0.6, "type": "quantitative", "scale": {"domain": [-1.17, 383.9], "nice": false, "zero": false}, "axis": null},
  "y": {"datum": 0.99, "type": "quantitative", "scale": {"domain": [-1.959, 1.144], "nice": false, "zero": false}, "axis": null}, "text": {"field": "t"}}}
]
},
{
"width": 660, "height": 40,
"resolve": {"axis": {"x": "independent", "y": "independent"}},
"layer": [
{"data": {"name": "aroonUp"}, "mark": {"type": "line", "stroke": "#5aa25a", "strokeWidth": 1},
 "encoding": {"x": {"field": "i", "type": "quantitative", "scale": {"domain": [-1.17, 383.9], "nice": false, "zero": false},
   "axis": {"orient": "bottom", "title": null, "labelOverlap": false, "labelFontSize": 4.2, "values": [0,16,32,48,64,80,96,112,128,144,160,176,192,208,224,240,256,272,288,304],
    "labelExpr": "['14 Jun 2022','15 Jun 13:00','16 Jun 08:00','17 Jun 03:00','17 Jun 19:00','20 Jun 12:00','21 Jun 10:00','22 Jun 05:00','22 Jun 21:00','23 Jun 16:00','24 Jun 11:00','27 Jun 04:00','27 Jun 20:00','28 Jun 15:00','29 Jun 10:00','30 Jun 05:00','30 Jun 21:00','1 Jul 16:00','4 Jul 09:00','5 Jul 08:00'][round(datum.value / 16)]",
    "labelAlign": "left", "labelBaseline": "top", "labelFlush": false}},
  "y": {"field": "v", "type": "quantitative", "scale": {"domain": [-4.32, 113.32], "nice": false, "zero": false},
   "axis": {"orient": "right", "title": null, "labelOverlap": false, "labelFontSize": 4, "values": [104.5, 4.5], "labelExpr": "format(datum.value, '.1f')"}}}},
{"data": {"name": "aroonDn"}, "mark": {"type": "line", "stroke": "#ff7a7a", "strokeWidth": 1},
 "encoding": {"x": {"field": "i", "type": "quantitative", "scale": {"domain": [-1.17, 383.9], "nice": false, "zero": false}, "axis": null},
  "y": {"field": "v", "type": "quantitative", "scale": {"domain": [-4.32, 113.32], "nice": false, "zero": false}, "axis": null}}},
{"data": {"values": [{"t": "Aroon Up & Dn(14) 71.4 0.0"}]}, "mark": {"type": "text", "align": "left", "baseline": "middle", "fontSize": 4.5, "fill": "#111111"},
 "encoding": {"x": {"datum": 0.6, "type": "quantitative", "scale": {"domain": [-1.17, 383.9], "nice": false, "zero": false}, "axis": null},
  "y": {"datum": 101.5, "type": "quantitative", "scale": {"domain": [-4.32, 113.32], "nice": false, "zero": false}, "axis": null}, "text": {"field": "t"}}}
]
}
]
}
